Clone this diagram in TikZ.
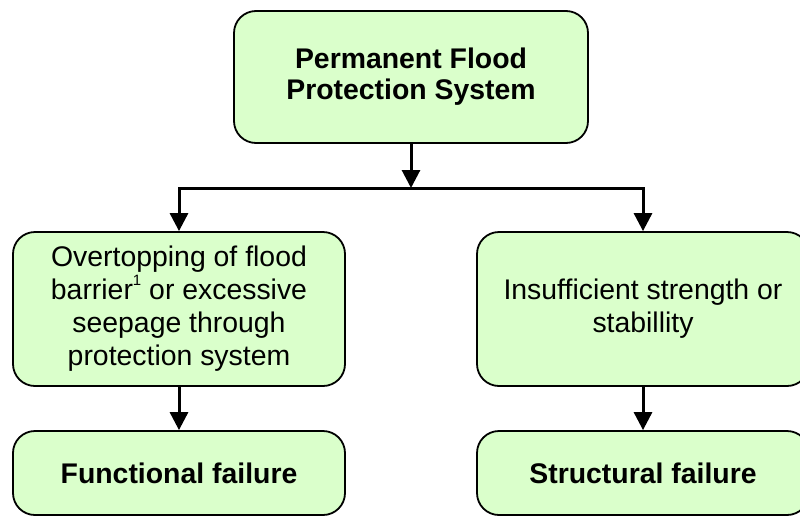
\documentclass[tikz,border=0pt]{standalone}
\usepackage{fontspec}
\setmainfont{Liberation Sans}
\usetikzlibrary{arrows.meta}
\definecolor{boxfill}{RGB}{218,255,203}
\newcommand{\footmark}[1]{\raisebox{0.5em}{\fontsize{15}{15}\selectfont #1}}
\begin{document}
\begin{tikzpicture}[x=1pt,y=-1pt,
  box/.style={draw=black, line width=1.8pt, fill=boxfill, rounded corners=22pt,
              align=center, inner sep=0pt},
  conn/.style={line width=3pt, -{Triangle[width=18pt,length=18pt]}},
  bodytext/.style={font=\fontsize{28.4}{33}\selectfont},
  headtext/.style={font=\fontsize{28.4}{31}\selectfont\bfseries}]
\useasboundingbox (0,0) rectangle (800,517);

% system at the top
\node[box, headtext, minimum width=354pt, minimum height=132pt] (top) at (411,77)
  {Permanent Flood\\Protection System};

% failure causes
\node[box, bodytext, minimum width=332pt, minimum height=154pt] (cause1) at (179,309)
  {Overtopping of flood\\barrier\footmark{1} or excessive\\seepage through\\protection system};
\node[box, bodytext, minimum width=332pt, minimum height=154pt] (cause2) at (643,309)
  {Insufficient strength or\\stabillity};

% failure modes
\node[box, headtext, minimum width=332pt, minimum height=84pt] (mode1) at (179,473)
  {Functional failure};
\node[box, headtext, minimum width=332pt, minimum height=84pt] (mode2) at (643,473)
  {Structural failure};

% branching connectors
\coordinate (split) at (411,188);
\draw[conn] (top.south) -- (split);
\draw[conn] (split) -| (cause1.north);
\draw[conn] (split) -| (cause2.north);
\draw[conn] (cause1.south) -- (mode1.north);
\draw[conn] (cause2.south) -- (mode2.north);
\end{tikzpicture}
\end{document}
